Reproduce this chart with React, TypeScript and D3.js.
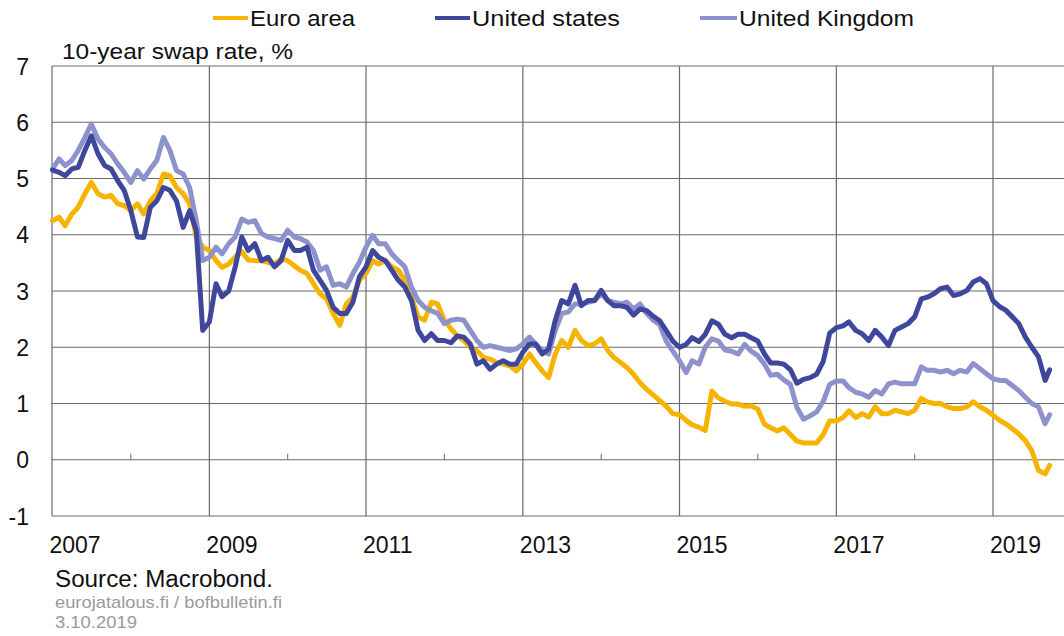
import React from 'react';
import * as d3 from 'd3';

// Monthly readings, Jan 2007 .. Sep 2019, plus last observation (late Sep 2019)
const euroArea = [
  4.25, 4.31, 4.16, 4.37, 4.49, 4.73, 4.93, 4.73, 4.67, 4.70, 4.55, 4.52,
  4.43, 4.55, 4.37, 4.60, 4.73, 5.08, 5.05, 4.84, 4.73, 4.55, 3.96, 3.78,
  3.72, 3.54, 3.42, 3.48, 3.60, 3.70, 3.55, 3.54, 3.54, 3.51, 3.48, 3.57,
  3.54, 3.45, 3.37, 3.31, 3.13, 2.95, 2.86, 2.60, 2.39, 2.77, 2.89, 3.19,
  3.31, 3.54, 3.48, 3.54, 3.43, 3.37, 3.19, 2.89, 2.54, 2.48, 2.80, 2.77,
  2.48, 2.33, 2.20, 2.12, 2.00, 1.94, 1.82, 1.79, 1.73, 1.70, 1.67, 1.58,
  1.70, 1.88, 1.73, 1.58, 1.46, 1.88, 2.12, 2.00, 2.30, 2.12, 2.03, 2.06,
  2.15, 1.94, 1.82, 1.73, 1.64, 1.52, 1.37, 1.25, 1.15, 1.05, 0.95, 0.82,
  0.80, 0.70, 0.62, 0.58, 0.52, 1.22, 1.10, 1.04, 0.99, 0.99, 0.95, 0.96,
  0.90, 0.63, 0.57, 0.51, 0.57, 0.45, 0.33, 0.30, 0.30, 0.30, 0.45, 0.69,
  0.69, 0.75, 0.87, 0.75, 0.82, 0.76, 0.94, 0.82, 0.82, 0.88, 0.85, 0.82,
  0.88, 1.09, 1.03, 1.00, 1.00, 0.94, 0.91, 0.91, 0.94, 1.03, 0.94, 0.88,
  0.79, 0.70, 0.64, 0.55, 0.46, 0.34, 0.16, -0.19, -0.25, -0.10,
];

const unitedStates = [
  5.15, 5.11, 5.05, 5.17, 5.20, 5.50, 5.76, 5.44, 5.23, 5.17, 4.96, 4.79,
  4.43, 3.96, 3.95, 4.49, 4.60, 4.84, 4.79, 4.60, 4.13, 4.43, 4.07, 2.30,
  2.45, 3.13, 2.90, 3.00, 3.42, 3.96, 3.72, 3.84, 3.54, 3.60, 3.43, 3.54,
  3.90, 3.72, 3.72, 3.78, 3.37, 3.19, 3.01, 2.71, 2.60, 2.60, 2.80, 3.25,
  3.43, 3.72, 3.60, 3.54, 3.37, 3.19, 3.07, 2.83, 2.30, 2.12, 2.24, 2.12,
  2.12, 2.08, 2.20, 2.18, 2.06, 1.70, 1.76, 1.61, 1.70, 1.76, 1.70, 1.70,
  1.91, 2.06, 2.06, 1.88, 1.97, 2.48, 2.83, 2.77, 3.10, 2.74, 2.83, 2.83,
  3.01, 2.83, 2.74, 2.74, 2.71, 2.57, 2.68, 2.65, 2.55, 2.47, 2.29, 2.11,
  2.00, 2.05, 2.17, 2.10, 2.23, 2.47, 2.41, 2.23, 2.17, 2.23, 2.23, 2.17,
  2.11, 1.88, 1.72, 1.72, 1.70, 1.60, 1.36, 1.43, 1.46, 1.52, 1.75, 2.25,
  2.35, 2.38, 2.45, 2.30, 2.24, 2.12, 2.30, 2.18, 2.03, 2.30, 2.36, 2.42,
  2.54, 2.86, 2.89, 2.95, 3.04, 3.07, 2.92, 2.95, 3.01, 3.16, 3.22, 3.13,
  2.83, 2.72, 2.66, 2.54, 2.42, 2.18, 2.00, 1.83, 1.41, 1.60,
];

const unitedKingdom = [
  5.17, 5.35, 5.23, 5.32, 5.50, 5.73, 5.97, 5.70, 5.55, 5.44, 5.26, 5.11,
  4.93, 5.14, 4.99, 5.17, 5.32, 5.73, 5.50, 5.14, 5.08, 4.84, 4.25, 3.54,
  3.60, 3.78, 3.66, 3.84, 3.96, 4.28, 4.22, 4.25, 4.02, 3.96, 3.93, 3.90,
  4.08, 3.96, 3.93, 3.87, 3.72, 3.37, 3.43, 3.10, 3.13, 3.07, 3.31, 3.51,
  3.78, 3.99, 3.84, 3.84, 3.66, 3.54, 3.43, 3.07, 2.83, 2.71, 2.65, 2.60,
  2.42, 2.48, 2.50, 2.48, 2.30, 2.12, 2.00, 2.03, 2.00, 1.97, 1.94, 1.97,
  2.06, 2.18, 2.06, 1.94, 1.88, 2.30, 2.60, 2.63, 2.77, 2.77, 2.80, 2.83,
  2.95, 2.83, 2.80, 2.77, 2.80, 2.68, 2.77, 2.60, 2.48, 2.40, 2.10, 1.93,
  1.76, 1.55, 1.76, 1.70, 2.00, 2.15, 2.11, 1.95, 1.93, 1.88, 2.05, 1.93,
  1.85, 1.70, 1.50, 1.52, 1.42, 1.34, 0.93, 0.72, 0.78, 0.85, 1.04, 1.34,
  1.40, 1.40, 1.28, 1.20, 1.17, 1.11, 1.23, 1.17, 1.35, 1.38, 1.35, 1.35,
  1.35, 1.65, 1.59, 1.59, 1.56, 1.59, 1.53, 1.59, 1.56, 1.71, 1.62, 1.53,
  1.44, 1.41, 1.41, 1.32, 1.23, 1.11, 1.00, 0.94, 0.64, 0.80,
];

const dates: Date[] = [
  ...d3.timeMonths(new Date(2007, 0, 1), new Date(2019, 8, 2)),
  new Date(2019, 8, 22),
];

const yTicks = [-1, 0, 1, 2, 3, 4, 5, 6, 7];
const gridYears = [2009, 2011, 2013, 2015, 2017, 2019];
const minorYears = [2008, 2010, 2012, 2014, 2016, 2018];
const labelYears = [2007, 2009, 2011, 2013, 2015, 2017, 2019];

const seriesNames = ['Euro area', 'United states', 'United Kingdom'];
const seriesColors = ['#F6B400', '#3F479C', '#8E92CC'];

const FONT = '"Liberation Sans", Arial, Helvetica, sans-serif';

export default function App() {
  const W = 1064;
  const H = 636;
  const x = d3
    .scaleTime()
    .domain([new Date(2007, 0, 1), new Date(2019, 0, 1)])
    .range([52.5, 993]);
  const y = d3.scaleLinear().domain([-1, 7]).range([516, 66]);
  const xLeft = 52;
  const xRight = W;

  const data = [euroArea, unitedStates, unitedKingdom];
  const line = d3
    .line<number>()
    .x((_, i) => x(dates[i]))
    .y((d) => y(d))
    .curve(d3.curveLinear);

  const drawOrder = [0, 2, 1];

  const legendItems = [
    { x0: 213, x1: 248, tx: 250, tl: 105 },
    { x0: 435, x1: 470, tx: 472, tl: 148 },
    { x0: 700, x1: 737, tx: 739, tl: 175 },
  ];

  return (
    <svg
      width={W}
      height={H}
      style={{ position: 'absolute', left: 0, top: 0, background: '#fff' }}
      fontFamily={FONT}
    >
      <rect x={0} y={0} width={W} height={H} fill="#fff" />
      {yTicks.map((t) => (
        <line
          key={'h' + t}
          x1={xLeft}
          x2={xRight}
          y1={y(t)}
          y2={y(t)}
          stroke="#6a6a6a"
          strokeWidth={1.2}
        />
      ))}
      {gridYears.map((yr) => (
        <line
          key={'v' + yr}
          x1={x(new Date(yr, 0, 1))}
          x2={x(new Date(yr, 0, 1))}
          y1={y(7)}
          y2={y(-1)}
          stroke="#6a6a6a"
          strokeWidth={1.2}
        />
      ))}
      <line x1={xLeft} x2={xLeft} y1={y(7)} y2={y(-1)} stroke="#6a6a6a" strokeWidth={1.2} />
      {minorYears.map((yr) => (
        <line
          key={'m' + yr}
          x1={x(new Date(yr, 0, 1))}
          x2={x(new Date(yr, 0, 1))}
          y1={y(0)}
          y2={y(0) - 6}
          stroke="#6a6a6a"
          strokeWidth={1}
        />
      ))}
      {yTicks.map((t) => (
        <text
          key={'yl' + t}
          x={29}
          y={y(t) + 8.5}
          textAnchor="end"
          fontSize={23}
          fill="#111"
        >
          {t}
        </text>
      ))}
      {labelYears.map((yr) => (
        <text
          key={'xl' + yr}
          x={x(new Date(yr, 0, 1)) - 3}
          y={553}
          fontSize={23}
          fill="#111"
        >
          {yr}
        </text>
      ))}
      {drawOrder.map((k) => (
        <path
          key={'s' + k}
          d={line(data[k]) || ''}
          fill="none"
          stroke={seriesColors[k]}
          strokeWidth={5}
          strokeLinejoin="round"
          strokeLinecap="round"
        />
      ))}
      {legendItems.map((it, k) => (
        <g key={'lg' + k}>
          <line
            x1={it.x0}
            x2={it.x1}
            y1={18}
            y2={18}
            stroke={seriesColors[k]}
            strokeWidth={4}
          />
          <text
            x={it.tx}
            y={26}
            fontSize={22}
            fill="#111"
            textLength={it.tl}
            lengthAdjust="spacingAndGlyphs"
          >
            {seriesNames[k]}
          </text>
        </g>
      ))}
      <text x={62} y={59} fontSize={22} fill="#111" textLength={231} lengthAdjust="spacingAndGlyphs">
        10-year swap rate, %
      </text>
      <text x={55} y={587} fontSize={23} fill="#111" textLength={218} lengthAdjust="spacingAndGlyphs">
        Source: Macrobond.
      </text>
      <text x={55} y={608} fontSize={17} fill="#9a9a9a" textLength={227} lengthAdjust="spacingAndGlyphs">
        eurojatalous.fi / bofbulletin.fi
      </text>
      <text x={55} y={628} fontSize={17} fill="#9a9a9a" textLength={82} lengthAdjust="spacingAndGlyphs">
        3.10.2019
      </text>
    </svg>
  );
}
